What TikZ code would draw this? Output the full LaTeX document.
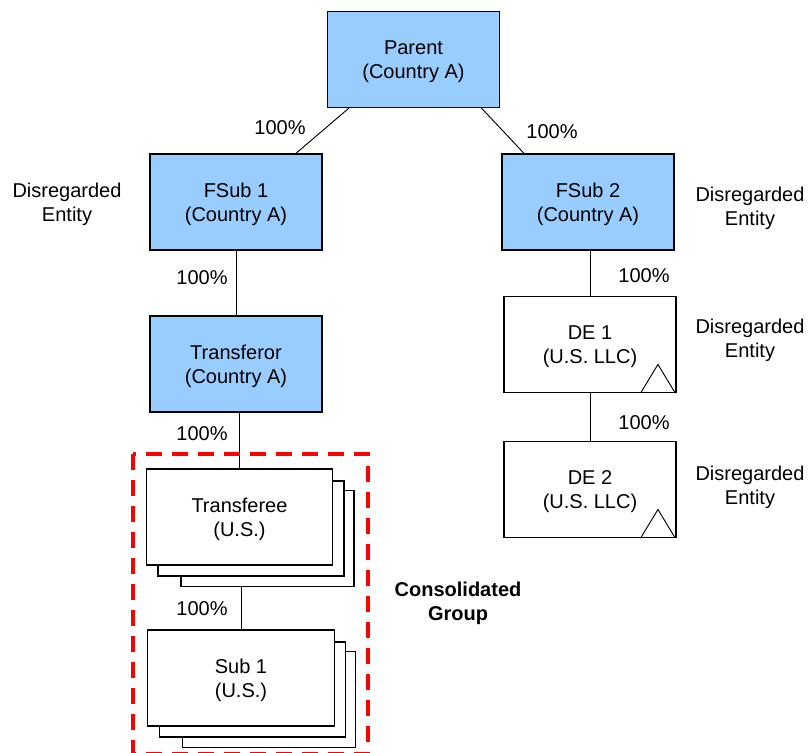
\documentclass[tikz,border=0pt]{standalone}
\usepackage{fontspec}
\setmainfont{Liberation Sans}
\usetikzlibrary{positioning}
\definecolor{entityblue}{RGB}{153,204,255}
\tikzstyle{box}=[rectangle, draw=black, line width=0.9pt, minimum width=129pt, minimum height=72pt, inner sep=0pt, align=center, anchor=center, text height=32pt]
\tikzstyle{corp}=[box, fill=entityblue]
\tikzstyle{llc}=[box, fill=white]
\tikzstyle{annot}=[align=center]
\tikzstyle{own}=[draw=black, line width=0.7pt]
\newcommand{\drawstack}[4]
{
  \node[box, fill=white, minimum width=129.75pt](#1c) at ({#2+28},{#3+21.5}){};
  \node[box, fill=white, minimum width=139.5pt, minimum height=71.25pt](#1b) at ({#2+11.5},{#3+11.5}){};
  \node[box, fill=white, minimum width=140pt](#1) at (#2,#3){#4};
}
\newcommand{\llcmark}[1]
{
  \draw[line width=0.7pt] ([xshift=-27pt]#1.south east) -- ([xshift=-14pt, yshift=21.5pt]#1.south east) -- ([xshift=-1pt]#1.south east);
}

\begin{document}
\begin{tikzpicture}[x=0.75pt, y=-0.75pt, font=\fontsize{15}{18}\selectfont]
	\useasboundingbox (0,0) rectangle (808,753);

	\node[corp](parent) at (413.5,59.5){Parent\\(Country A)};
	\node[corp](fsub1) at (236,202){FSub 1\\(Country A)};
	\node[corp](fsub2) at (588,202){FSub 2\\(Country A)};
	\node[corp](transferor) at (236,364){Transferor\\(Country A)};
	\node[llc](de1) at (590,344.5){DE 1\\(U.S. LLC)};
	\node[llc](de2) at (590,489.5){DE 2\\(U.S. LLC)};
	\llcmark{de1}
	\llcmark{de2}

	\drawstack{transferee}{239.5}{517}{Transferee\\(U.S.)}
	\drawstack{sub1}{241}{678}{Sub 1\\(U.S.)}

	% ownership lines
	\draw[own] ([xshift=16.5pt]parent.south west) -- ([xshift=-20pt]fsub1.north east);
	\draw[own] ([xshift=-14pt]parent.south east) -- ([xshift=17pt]fsub2.north west);
	\draw[own] (fsub1) -- (transferor);
	\draw[own] (transferor.south -| transferee.north) -- (transferee.north);
	\draw[own] (transfereec.south -| sub1.north) -- (sub1.north);
	\draw[own] (fsub2.south -| de1.north) -- (de1.north);
	\draw[own] (de1) -- (de2);

	\node[annot](p1) at (280,128){100\%};
	\node[annot](p2) at (552,132){100\%};
	\node[annot](p3) at (202,278){100\%};
	\node[annot](p4) at (644,276){100\%};
	\node[annot](p5) at (202,434){100\%};
	\node[annot](p6) at (644,423){100\%};
	\node[annot](p7) at (202,609){100\%};

	\node[annot](de0) at (67,204){Disregarded\\Entity};
	\node[annot](de_fsub2) at (750,208){Disregarded\\Entity};
	\node[annot](de_de1) at (750,340){Disregarded\\Entity};
	\node[annot](de_de2) at (750,487){Disregarded\\Entity};

	% consolidated group
	\draw[red, line width=2.4pt, dash pattern=on 12pt off 7.5pt] (133,454) rectangle (368,753.5);
	\node[annot, font=\fontsize{15}{18}\selectfont\bfseries](group) at (458,603){Consolidated\\Group};

\end{tikzpicture}
\end{document}
